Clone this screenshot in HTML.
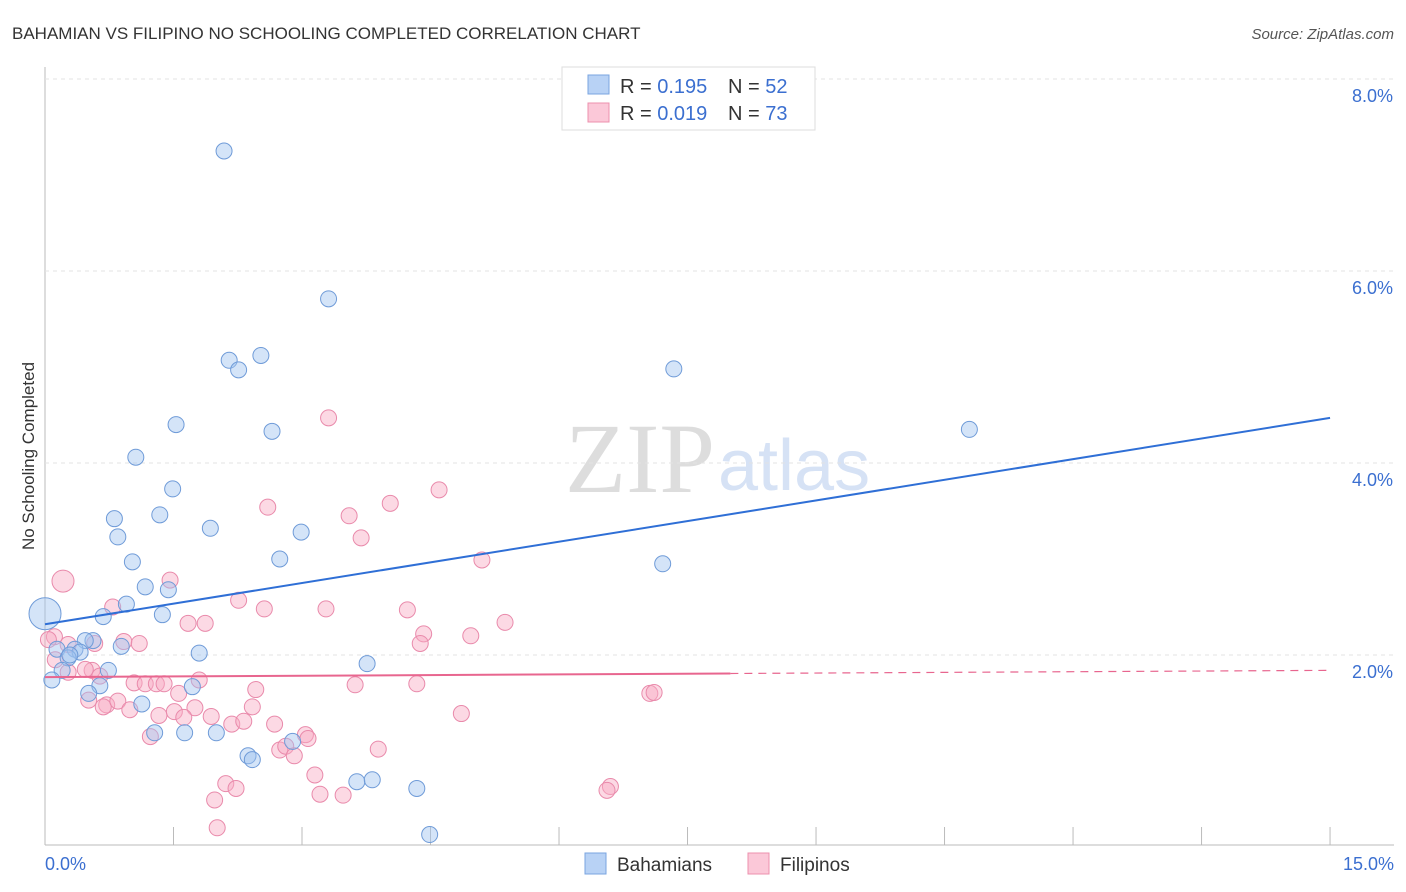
<!DOCTYPE html>
<html><head><meta charset="utf-8"><style>
body{margin:0;background:#fff;font-family:"Liberation Sans",sans-serif;}
svg{display:block}
</style></head><body>
<svg id="c" width="1406" height="892">
<text x="12" y="39" font-size="17" fill="#333">BAHAMIAN VS FILIPINO NO SCHOOLING COMPLETED CORRELATION CHART</text>
<text x="1394" y="39" font-size="15" fill="#555" font-style="italic" text-anchor="end">Source: ZipAtlas.com</text>
<text x="34" y="456" font-size="17" fill="#333" transform="rotate(-90 34 456)" text-anchor="middle">No Schooling Completed</text>
<text x="715" y="492" font-size="100" fill="#ddd" text-anchor="end" font-family="Liberation Serif,serif">ZIP</text>
<text x="718" y="490" font-size="72" fill="#d6e2f5">atlas</text>
<g id="g"></g>
<g>
<rect x="562" y="67" width="253" height="63" fill="#fff" stroke="#ddd"/>
<rect x="588" y="75" width="21" height="19" fill="#b8d2f5" stroke="#7aa4e0"/>
<rect x="588" y="103" width="21" height="19" fill="#fbc8d8" stroke="#ec90ae"/>
<text x="620" y="93" font-size="20" fill="#333">R = <tspan fill="#3b6fd0">0.195</tspan></text>
<text x="728" y="93" font-size="20" fill="#333">N = <tspan fill="#3b6fd0">52</tspan></text>
<text x="620" y="120" font-size="20" fill="#333">R = <tspan fill="#3b6fd0">0.019</tspan></text>
<text x="728" y="120" font-size="20" fill="#333">N = <tspan fill="#3b6fd0">73</tspan></text>
</g>
<g>
<rect x="585" y="853" width="21" height="21" fill="#b8d2f5" stroke="#7aa4e0"/>
<text x="617" y="871" font-size="19" fill="#333">Bahamians</text>
<rect x="748" y="853" width="21" height="21" fill="#fbc8d8" stroke="#ec90ae"/>
<text x="780" y="871" font-size="19" fill="#333">Filipinos</text>
</g>
</svg>
<script>
const yTicks=[2,4,6,8];
const xTickLabels=["0.0%","15.0%"];
const bahX=[2.09,3.31,2.15,2.52,2.26,7.34,10.79,1.53,2.65,1.06,1.49,0.81,1.93,0.85,2.99,1.34,2.74,1.02,7.21,1.17,1.44,0.95,0.68,1.37,0,0.56,0.47,0.89,0.35,0.14,1.80,0.41,0.27,3.76,0.74,0.20,0.08,0.64,1.72,0.51,1.13,1.28,1.63,2.00,2.89,2.37,2.42,3.64,3.82,4.34,4.49,0.29];
const bahY=[7.25,5.71,5.07,5.12,4.97,4.98,4.35,4.40,4.33,4.06,3.73,3.42,3.32,3.23,3.28,3.46,3.00,2.97,2.95,2.71,2.68,2.53,2.40,2.42,2.43,2.15,2.15,2.09,2.06,2.06,2.02,2.03,1.97,1.91,1.84,1.84,1.74,1.68,1.67,1.60,1.49,1.19,1.19,1.19,1.10,0.95,0.91,0.68,0.70,0.61,0.13,2.00];
const bahSize=[8,8,8,8,8,8,8,8,8,8,8,8,8,8,8,8,8,8,8,8,8,8,8,8,16,8,8,8,8,8,8,8,8,8,8,8,8,8,8,8,8,8,8,8,8,8,8,8,8,8,8,8];
const filX=[3.31,4.60,2.60,4.03,3.55,3.69,5.10,1.46,0.21,2.26,0.79,2.56,3.28,4.23,1.67,1.87,5.37,4.97,4.42,4.38,0.92,1.10,0.11,0.04,0.27,0.58,0.12,0.55,0.47,0.27,0.64,1.04,1.17,1.30,1.39,1.80,2.46,3.62,4.34,7.06,7.11,1.56,0.51,0.72,0.68,0.85,0.99,1.51,1.75,2.42,1.33,1.62,1.94,2.18,2.32,2.68,4.86,1.23,3.04,3.07,2.74,2.81,2.91,3.89,3.15,2.11,2.23,3.21,3.48,1.98,6.60,6.56,2.01];
const filY=[4.47,3.72,3.54,3.58,3.45,3.22,2.99,2.78,2.77,2.57,2.50,2.48,2.48,2.47,2.33,2.33,2.34,2.20,2.22,2.12,2.14,2.12,2.19,2.16,2.11,2.12,1.95,1.84,1.85,1.82,1.78,1.71,1.70,1.70,1.70,1.74,1.64,1.69,1.70,1.60,1.61,1.60,1.53,1.48,1.46,1.52,1.43,1.41,1.45,1.46,1.37,1.35,1.36,1.28,1.31,1.28,1.39,1.15,1.17,1.13,1.01,1.05,0.95,1.02,0.75,0.66,0.61,0.55,0.54,0.49,0.63,0.59,0.20];
const bahTrend=[2.32,4.47];const filTrend=[1.77,1.84];
const X=v=>45+v*85.67, Y=v=>847-v*96;
const g=document.getElementById('g');const NS='http://www.w3.org/2000/svg';
function mk(t,a){const e=document.createElementNS(NS,t);for(const k in a)e.setAttribute(k,a[k]);g.appendChild(e);return e;}
let ax=mk('line',{x1:45,y1:67,x2:45,y2:845,stroke:'#bbb'});

let bx=mk('line',{x1:45,y1:845,x2:1394,y2:845,stroke:'#bbb'});

for(const t of yTicks){const l=mk('line',{x1:45,y1:Y(t),x2:1394,y2:Y(t),stroke:'#e3e3e3','stroke-dasharray':'4,4'});

const tx=mk('text',{x:1393,y:Y(t)+23,'font-size':18,fill:'#3b6fd0','text-anchor':'end'});tx.textContent=t.toFixed(1)+'%';

}
for(let i=0;i<=10;i++){const l=mk('line',{x1:X(i*1.5),y1:827,x2:X(i*1.5),y2:845,stroke:'#bbb'});
}
let t1=mk('text',{x:45,y:870,'font-size':18,fill:'#3b6fd0'});t1.textContent=xTickLabels[0];

let t2=mk('text',{x:1394,y:870,'font-size':18,fill:'#3b6fd0','text-anchor':'end'});t2.textContent=xTickLabels[1];

filX.forEach((x,i)=>{const c=mk('circle',{cx:X(x),cy:Y(filY[i]),r:(i==8?11:8),fill:'rgba(248,170,196,0.45)',stroke:'#e98aab','stroke-width':1});

});
bahX.forEach((x,i)=>{const c=mk('circle',{cx:X(x),cy:Y(bahY[i]),r:bahSize[i],fill:'rgba(160,195,240,0.45)',stroke:'#6f9bd8','stroke-width':1});

});
let bl=mk('line',{x1:X(0),y1:Y(bahTrend[0]),x2:X(15),y2:Y(bahTrend[1]),stroke:'#2f6fd6','stroke-width':2});

const fm=f=>filTrend[0]+(filTrend[1]-filTrend[0])*f/15;
let pl=mk('line',{x1:X(0),y1:Y(fm(0)),x2:X(8),y2:Y(fm(8)),stroke:'#e8668f','stroke-width':2});

let pd=mk('line',{x1:X(8),y1:Y(fm(8)),x2:X(15),y2:Y(fm(15)),stroke:'#e8668f','stroke-width':1.2,'stroke-dasharray':'8,6'});

</script>
</body></html>
